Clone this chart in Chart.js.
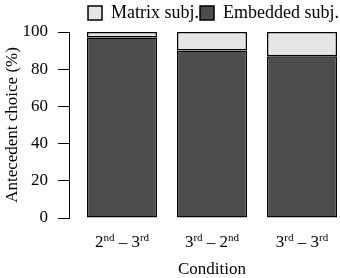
<!DOCTYPE html>
<html>
<head>
<meta charset="utf-8">
<script src="https://cdn.jsdelivr.net/npm/chart.js@4/dist/chart.umd.min.js"></script>
<style>
html,body{margin:0;padding:0;background:#fff;}
#wrap{width:340px;height:278px;}
</style>
</head>
<body>
<div id="wrap"><canvas id="c" width="340" height="278"></canvas></div>
<script>
const categories = ['2nd – 3rd', '3rd – 2nd', '3rd – 3rd'];
const embeddedValues = [97, 90, 87];
const matrixValues = [3, 10, 13];
const yTicks = [0, 20, 40, 60, 80, 100];
const seriesNames = ['Embedded subj.', 'Matrix subj.'];
const xTitle = 'Condition';
const yTitle = 'Antecedent choice (%)';

const FONT = 'Liberation Serif';
const FS = 17;

const xLabelsPlugin = {
  id: 'xLabels',
  afterDraw(chart) {
    const ctx = chart.ctx;
    const xs = chart.scales.x;
    const base = chart.chartArea.bottom + 29;
    ctx.save();
    ctx.fillStyle = '#000';
    ctx.textBaseline = 'alphabetic';
    ctx.textAlign = 'left';
    categories.forEach((cat, i) => {
      const parts = [];
      const re = /(\d)(st|nd|rd|th)/g;
      let last = 0, m;
      while ((m = re.exec(cat)) !== null) {
        if (m.index > last) parts.push({t: cat.slice(last, m.index), sup: false});
        parts.push({t: m[1], sup: false});
        parts.push({t: m[2], sup: true});
        last = re.lastIndex;
      }
      if (last < cat.length) parts.push({t: cat.slice(last), sup: false});
      let total = 0;
      parts.forEach(p => {
        ctx.font = (p.sup ? 11 : FS) + 'px "' + FONT + '"';
        p.w = ctx.measureText(p.t).width;
        total += p.w;
      });
      let x = xs.getPixelForValue(i + 1) - total / 2;
      parts.forEach(p => {
        ctx.font = (p.sup ? 11 : FS) + 'px "' + FONT + '"';
        ctx.fillText(p.t, x, p.sup ? base - 6 : base);
        x += p.w;
      });
    });
    ctx.font = FS + 'px "' + FONT + '"';
    ctx.textAlign = 'center';
    ctx.fillText(xTitle, xs.getPixelForValue(2), chart.chartArea.bottom + 56);
    ctx.restore();
  }
};

new Chart(document.getElementById('c'), {
  type: 'bar',
  data: {
    datasets: [
      {
        label: seriesNames[0],
        data: embeddedValues.map((v, i) => ({x: i + 1, y: v})),
        backgroundColor: '#4d4d4d',
        borderColor: '#000',
        borderWidth: 1.5,
        borderSkipped: false
      },
      {
        label: seriesNames[1],
        data: matrixValues.map((v, i) => ({x: i + 1, y: v})),
        backgroundColor: '#e5e5e5',
        borderColor: '#000',
        borderWidth: 1.5,
        borderSkipped: false
      }
    ]
  },
  options: {
    responsive: false,
    animation: false,
    devicePixelRatio: 1,
    layout: {padding: {top: 3, right: 0, left: 0, bottom: 0}},
    categoryPercentage: 1,
    barPercentage: 0.778,
    plugins: {
      legend: {
        display: true,
        position: 'top',
        align: 'end',
        reverse: true,
        labels: {
          color: '#000',
          font: {family: FONT, size: 18},
          boxWidth: 14,
          boxHeight: 14,
          padding: 1
        }
      },
      tooltip: {enabled: false}
    },
    scales: {
      x: {
        type: 'linear',
        stacked: true,
        offset: false,
        min: 0.411,
        max: 3.422,
        afterBuildTicks(s) { s.ticks = categories.map((c, i) => ({value: i + 1})); },
        grid: {display: false, offset: false},
        border: {display: false},
        ticks: {display: false},
        afterFit(s) { s.height = 60; }
      },
      y: {
        stacked: true,
        min: 0,
        max: 100,
        afterBuildTicks(s) { s.ticks = yTicks.map(v => ({value: v})); },
        grid: {drawOnChartArea: false, drawTicks: true, tickLength: 11, tickColor: '#000', tickWidth: 1},
        border: {display: true, color: '#000', width: 1},
        ticks: {color: '#000', font: {family: FONT, size: FS}, padding: 10},
        title: {display: true, text: yTitle, color: '#000', font: {family: FONT, size: FS}, padding: {top: 2, bottom: 0}},
        afterFit(s) { s.width = 69; }
      }
    }
  },
  plugins: [xLabelsPlugin]
});
</script>
</body>
</html>
